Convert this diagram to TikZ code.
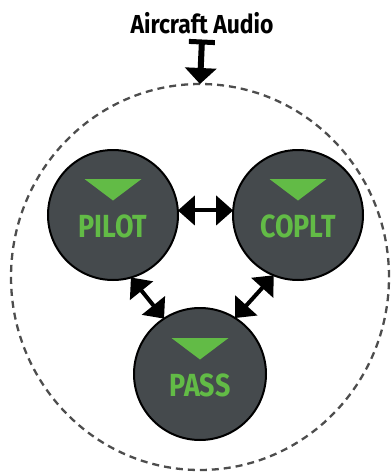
\documentclass[tikz,border=0pt]{standalone}
\usepackage{fontspec}
\newfontfamily\lblfont[FakeStretch=0.84]{Fira Sans}
\newfontfamily\ttlfont[FakeStretch=0.88]{Fira Sans}
\usetikzlibrary{arrows.meta,calc,shapes.geometric}
\definecolor{panel}{HTML}{454A4D}
\definecolor{grn}{HTML}{62BB46}
\definecolor{dashgray}{HTML}{4D4D4D}
\begin{document}
\begin{tikzpicture}[x=1pt,y=-1pt,
  chan/.style={circle,draw=black,line width=2pt,fill=panel,minimum size=130pt,inner sep=0pt,outer sep=0pt},
  lbl/.style={text=grn,font=\lblfont\bfseries\fontsize{32}{32}\selectfont,inner sep=0pt,anchor=center},
  tri/.style={fill=grn},
  dbl/.style={line width=4pt,{Triangle[width=29pt,length=17pt]}-{Triangle[width=29pt,length=17pt]}},
  group/.style={ellipse,draw=dashgray,line width=2.3pt,dash pattern=on 7pt off 5pt,minimum width=378pt,minimum height=386pt,inner sep=0pt,outer sep=0pt}]
\useasboundingbox (0,0) rectangle (391,472);
\node[group] (grp) at (200,277) {};
\node[font=\ttlfont\bfseries\fontsize{26}{26}\selectfont,anchor=base,inner sep=0pt] (title) at (202,33) {Aircraft Audio};
\coordinate (tin) at (202,39.5);
\draw[line width=6pt,{Bar[width=26pt,line width=5pt]}-{Triangle[width=31pt,length=16pt]}] (tin) -- (grp.north);
\node[chan] (pilot) at (113,215) {};
\node[chan] (coplt) at (298,215) {};
\node[chan,minimum size=132pt] (pass) at (200,374) {};
\foreach \n/\t in {pilot/PILOT,coplt/COPLT,pass/PASS}{
  \fill[tri] ($(\n)+(-28.5,-36)$) -- ($(\n)+(28.5,-36)$) -- ($(\n)+(0,-14.5)$) -- cycle;
  \node[lbl] (\n-l) at ($(\n)+(0,11)$) {\t};
}
\draw[dbl] (pilot.4) -- (coplt.176);
\draw[dbl] (pilot.-74) -- (pass.123);
\draw[dbl] (coplt.-112) -- (pass.58);
\end{tikzpicture}
\end{document}
